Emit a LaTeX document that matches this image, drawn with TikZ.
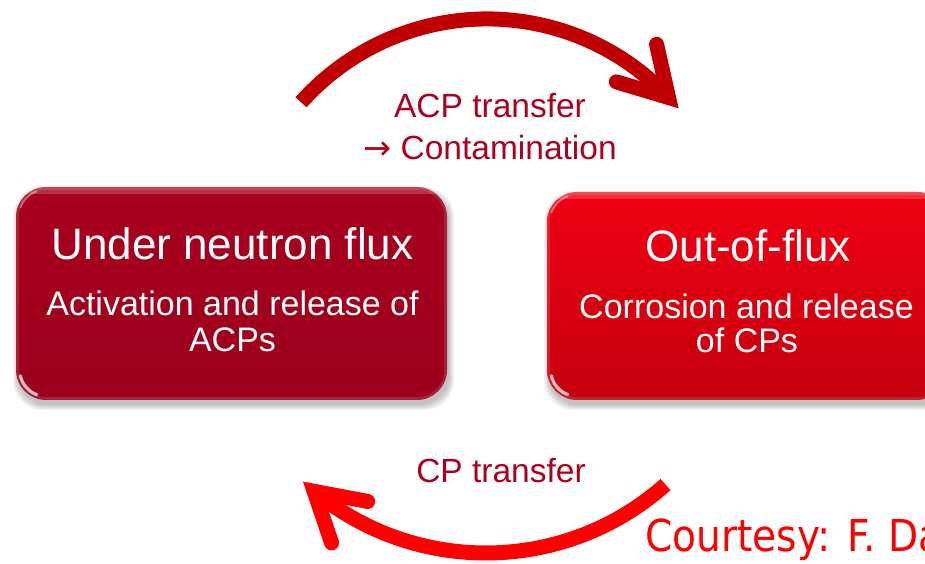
\documentclass[tikz,border=0pt]{standalone}
\usepackage{fontspec}
\setmainfont{Liberation Sans}
\newfontfamily\creditfont[FakeStretch=0.89]{DejaVu Sans}
\newfontfamily\arrowfont{DejaVu Sans}
\usetikzlibrary{backgrounds}

\definecolor{fluxtop}{HTML}{A8001F}
\definecolor{fluxbottom}{HTML}{9C001C}
\definecolor{outtop}{HTML}{F00012}
\definecolor{outbottom}{HTML}{C4000E}
\definecolor{acpred}{HTML}{C00000}
\definecolor{cpred}{HTML}{FF0000}
\definecolor{labelred}{HTML}{AC001E}

\tikzset{
  panel/.style={rectangle, rounded corners=30pt, inner sep=0pt},
  paneltitle/.style={text=white, anchor=base, font=\fontsize{44}{44}\selectfont},
  paneltext/.style={text=white, anchor=base, font=\fontsize{34}{34}\selectfont},
  flowlabel/.style={text=labelred, anchor=base, font=\fontsize{33.5}{34}\selectfont},
  shaft/.style={line width=15pt, line cap=butt},
  pics/barbhead/.style={code={
    \draw[line width=15pt, line cap=round, line join=miter]
      (-47,27.5) -- (0,0) -- (-47,-27.5);}},
  gleam/.style={white, line cap=round},
}

\begin{document}
\begin{tikzpicture}[x=1pt, y=1pt]
  \useasboundingbox (0,0) rectangle (925,564);
  \clip (0,0) rectangle (925,564);

  % the two stages
  \node[panel, top color=fluxtop, bottom color=fluxbottom,
        minimum width=431pt, minimum height=213pt] (flux) at (231.5,270.5) {};
  \node[panel, top color=outtop, bottom color=outbottom,
        minimum width=400pt, minimum height=208pt] (outflux) at (747,268) {};

  % soft shadows under the panels
  \begin{scope}[on background layer]
    \foreach \p in {flux, outflux}{
      \foreach \e in {0,...,5}{
        \fill[black, opacity=0.045, rounded corners=30pt]
          ([shift={(2-\e,-5-\e)}]\p.south west) rectangle ([shift={(2+\e,-5+\e)}]\p.north east);
      }
    }
  \end{scope}

  % glossy edges of the panels
  \foreach \p in {flux, outflux}{
    \begin{scope}
      \clip[rounded corners=30pt] (\p.south west) rectangle (\p.north east);
      \draw[white, opacity=0.12, line width=6pt, rounded corners=30pt]
        (\p.south west) rectangle (\p.north east);
      \fill[white, opacity=0.18] ([yshift=-7]\p.north west) rectangle (\p.north east);
    \end{scope}
    \draw[gleam, opacity=0.75, line width=3pt]
      ([shift={(30,30)}]\p.south west) ++(192:26) arc[start angle=192, end angle=250, radius=26];
    \draw[gleam, opacity=0.35, line width=2pt]
      ([shift={(30,-30)}]\p.north west) ++(110:27) arc[start angle=110, end angle=160, radius=27];
  }

  % panel texts
  \node[paneltitle] (fluxtitle) at (232.5,304) {Under neutron flux};
  \node[paneltext]  (fluxline1) at (232.5,248) {Activation and release of};
  \node[paneltext]  (fluxline2) at (232.5,212) {ACPs};
  \node[paneltitle] (outtitle)  at (748,302)   {Out-of-flux};
  \node[paneltext]  (outline1)  at (746.5,245) {Corrosion and release};
  \node[paneltext]  (outline2)  at (747,211)   {of CPs};

  % ACP transfer: from the flux stage over to the out-of-flux stage
  \coordinate (acpstart) at (301.1,461.7);
  \draw[shaft, acpred] (acpstart) arc[start angle=138.3, end angle=43.2, radius=249]
    coordinate (acpend);
  \pic[color=acpred, rotate=-47] at (acpend) {barbhead};
  \node[flowlabel] (acplabel)  at (490,446) {ACP transfer};
  \node[flowlabel] (contlabel) at (490,404) {{\arrowfont →} Contamination};

  % CP transfer: back from the out-of-flux stage to the flux stage
  \coordinate (cpstart) at (665.5,79.4);
  \draw[shaft, cpred] (cpstart) arc[start angle=-48.3, end angle=-129.5, radius=270]
    coordinate (cpend);
  \pic[color=cpred, rotate=139] at (cpend) {barbhead};
  \node[flowlabel] (cplabel) at (501,81) {CP transfer};

  % credit line
  \node[anchor=base west, inner sep=0pt, text=cpred, font=\creditfont\fontsize{44}{44}\selectfont]
    (credit) at (645,12) {Courtesy: F. Da};
\end{tikzpicture}
\end{document}
